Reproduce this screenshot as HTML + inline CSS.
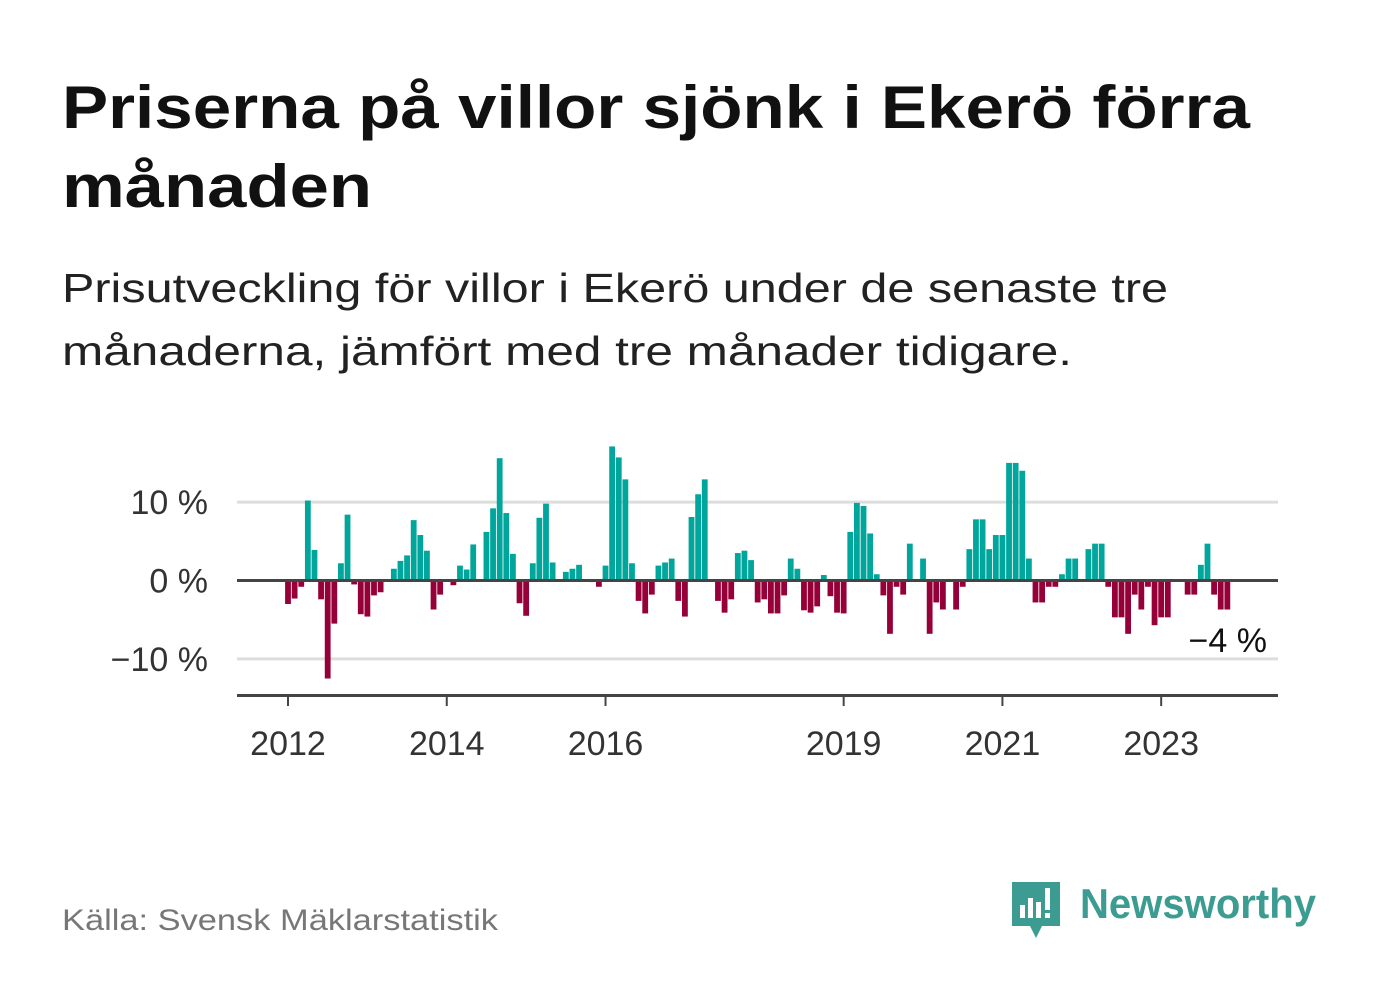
<!DOCTYPE html>
<html><head><meta charset="utf-8"><style>
body{margin:0;background:#fff;width:1382px;height:999px;overflow:hidden;font-family:"Liberation Sans",sans-serif}
svg{display:block}
</style></head><body>
<svg id="chart" width="1382" height="999">
<text x="62" y="128" font-size="60" font-weight="bold" fill="#111" textLength="1188" lengthAdjust="spacingAndGlyphs">Priserna på villor sjönk i Ekerö förra</text>
<text x="62" y="207" font-size="60" font-weight="bold" fill="#111" textLength="310" lengthAdjust="spacingAndGlyphs">månaden</text>
<text x="62" y="302" font-size="41" fill="#222" textLength="1106" lengthAdjust="spacingAndGlyphs">Prisutveckling för villor i Ekerö under de senaste tre</text>
<text x="62" y="365" font-size="41" fill="#222" textLength="1010" lengthAdjust="spacingAndGlyphs">månaderna, jämfört med tre månader tidigare.</text>
<g id="grid"></g>
<g id="bars"></g>
<g id="axes"></g>
<text x="1267" y="652" font-size="34" fill="#111" text-anchor="end">−4 %</text>
<text x="62" y="930" font-size="30" fill="#777" textLength="436" lengthAdjust="spacingAndGlyphs">Källa: Svensk Mäklarstatistik</text>
<g>
<path d="M1012 882 h48 v44 h-18 l-6 12 l-6 -12 h-18 z" fill="#3d9c92"/>
<rect x="1020" y="905" width="5" height="13" fill="#fff"/><rect x="1028" y="898" width="5" height="20" fill="#fff"/><rect x="1036" y="902" width="5" height="16" fill="#fff"/><rect x="1045" y="888" width="5" height="22" fill="#fff"/><rect x="1045" y="913" width="5" height="5" fill="#fff"/>
<text x="1080" y="918" font-size="42" font-weight="bold" fill="#3d9c92" textLength="236" lengthAdjust="spacingAndGlyphs">Newsworthy</text>
</g>
</svg>
<script>
const values = [-3,-2.3,-0.8,10.2,3.9,-2.4,-12.5,-5.5,2.2,8.4,-0.5,-4.3,-4.6,-1.9,-1.5,0,1.5,2.5,3.2,7.7,5.8,3.8,-3.7,-1.8,
0,-0.6,1.9,1.4,4.6,0,6.2,9.2,15.6,8.6,3.4,-2.9,-4.5,2.2,8.0,9.8,2.3,0,1.1,1.5,2.0,0,-0.2,-0.8,
1.9,17.1,15.7,12.9,2.2,-2.6,-4.2,-1.8,1.9,2.3,2.8,-2.6,-4.6,8.1,11.0,12.9,0,-2.6,-4.1,-2.4,3.5,3.8,2.6,-2.8,
-2.4,-4.2,-4.2,-1.9,2.8,1.5,-3.8,-4.1,-3.3,0.7,-2.0,-4.1,-4.2,6.2,9.9,9.5,6.0,0.8,-1.9,-6.8,-0.8,-1.8,4.7,0,
2.8,-6.8,-2.8,-3.7,0,-3.7,-0.8,4.0,7.8,7.8,4.0,5.8,5.8,15.0,15.0,14.0,2.8,-2.8,-2.8,-0.8,-0.8,0.8,2.8,2.8,
0,4.0,4.7,4.7,-0.8,-4.7,-4.7,-6.8,-1.8,-3.7,-0.8,-5.7,-4.7,-4.7,0,0,-1.8,-1.8,2.0,4.7,-1.8,-3.7,-3.7];
const yTicks = [10,0,-10];
const yTickLabels = ["10 %","0 %","−10 %"];
const xTickMonths = [0,24,48,84,108,132];
const xTickLabels = ["2012","2014","2016","2019","2021","2023"];
const NS="http://www.w3.org/2000/svg";
const x = i => 288 + i*6.615;
const y = v => 580.5 - v*7.84;
function mk(tag, attrs, parent){const e=document.createElementNS(NS,tag);for(const k in attrs)e.setAttribute(k,attrs[k]);parent.appendChild(e);return e;}
const grid=document.getElementById('grid'), bars=document.getElementById('bars'), axes=document.getElementById('axes');
yTicks.forEach((t,i)=>{
  if(t!==0){const l=mk('line',{x1:237,x2:1278,y1:y(t),y2:y(t),stroke:'#ddd','stroke-width':3},grid);
  
  }
  const tx=mk('text',{x:208,y:y(t)+12,'font-size':34,fill:'#333','text-anchor':'end'},axes);
  tx.textContent=yTickLabels[i];
  
  
});
values.forEach((v,i)=>{
  if(v===0)return;
  const r=mk('rect',{x:x(i)-2.9,width:5.8,y:Math.min(y(v),y(0)),height:Math.abs(y(v)-y(0)),fill:v>0?'#00a59b':'#960039'},bars);
  
  
});
const zl=mk('line',{x1:237,x2:1278,y1:y(0),y2:y(0),stroke:'#444','stroke-width':3},axes);


const xa=mk('line',{x1:237,x2:1278,y1:695.5,y2:695.5,stroke:'#444','stroke-width':3},axes);


xTickMonths.forEach((m,i)=>{
  const tk=mk('line',{x1:x(m),x2:x(m),y1:695,y2:706,stroke:'#444','stroke-width':2},axes);
  
  
  const tx=mk('text',{x:x(m),y:755,'font-size':34,fill:'#333','text-anchor':'middle'},axes);
  tx.textContent=xTickLabels[i];
  
  
});
</script>
</body></html>
